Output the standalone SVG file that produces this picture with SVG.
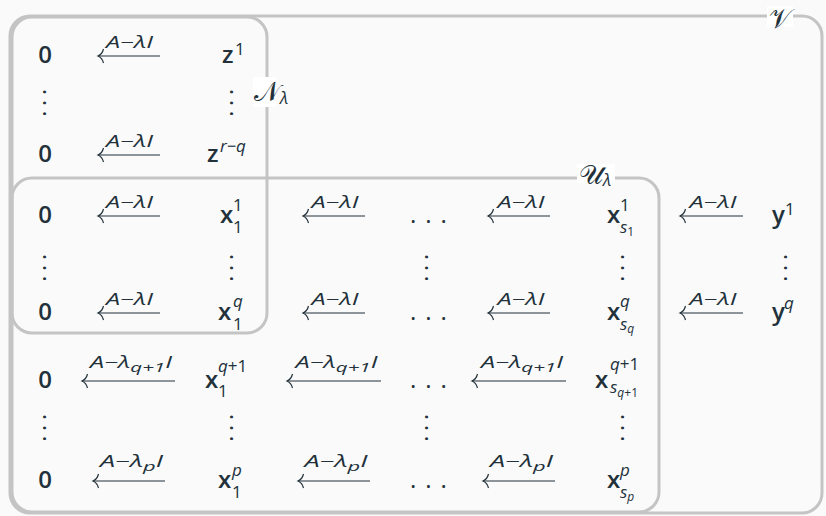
<svg xmlns="http://www.w3.org/2000/svg" width="826" height="516" viewBox="0 0 826 516">
<style>
.bg{fill:#fafafa}
.box{fill:none;stroke:#c4c4c4;stroke-width:3}
.lb{fill:#ffffff}
.m{font-family:"Open Sans","DejaVu Sans",sans-serif;font-size:24px;font-weight:600;fill:#22313a}
.sc{font-size:17px;font-weight:400}
.ss{font-size:12px;font-weight:400;font-style:italic}
.it{font-style:italic}
.vd{font-family:"Open Sans","DejaVu Sans",sans-serif;font-size:24px;font-weight:400;fill:#22313a;letter-spacing:4.6px}
.dots{font-family:"Open Sans",sans-serif;font-size:24px;fill:#22313a;letter-spacing:9px}
.lab{font-family:"Open Sans","DejaVu Sans",sans-serif;font-style:italic;font-size:16px;fill:#22313a;text-anchor:middle}
.lsub{font-size:13px}
.arr{stroke:#22313a;stroke-width:1.2;fill:none}
.cal{font-family:"DejaVu Serif","DejaVu Sans","Noto Sans",serif;font-size:27px;fill:#22313a}
.calsub{font-family:"Open Sans",sans-serif;font-size:17px;font-style:italic;fill:#22313a}
</style>
<defs>
<marker id="ah" markerUnits="userSpaceOnUse" markerWidth="14" markerHeight="16" viewBox="-8 -8 14 16" refX="0" refY="0" orient="auto" overflow="visible">
<path d="M -5.5,-7 C -4.5,-3 -2.5,-1 0,0 C -2.5,1 -4.5,3 -5.5,7" stroke="#22313a" stroke-width="1.2" fill="none"/>
</marker>
</defs>
<rect class="bg" x="0" y="0" width="826" height="516"/>

<g id="frames">
<rect id="V" class="box" x="10" y="16" width="812" height="497" rx="20"/>
<rect id="N" class="box" x="12" y="17" width="255" height="316" rx="20"/>
<rect id="U" class="box" x="12" y="178" width="647" height="334" rx="20"/>
<rect class="lb" x="767" y="6" width="26" height="21"/>
<text class="cal" x="769" y="28">𝒱</text>
<rect class="lb" x="253" y="77" width="23" height="30"/>
<text class="cal" x="254" y="101">𝒩</text><text class="calsub" x="280" y="104">λ</text>
<rect class="lb" x="577" y="164" width="38" height="19"/>
<text class="cal" x="579" y="184">𝒰</text><text class="calsub" x="603" y="186">λ</text>
</g>

<g id="connectors">
<path class="arr" marker-end="url(#ah)" d="M160,56 H98"/>
<text class="lab" x="129.5" y="48" textLength="47" lengthAdjust="spacingAndGlyphs">A−λI</text>
<path class="arr" marker-end="url(#ah)" d="M160,155 H98"/>
<text class="lab" x="129.5" y="147" textLength="47" lengthAdjust="spacingAndGlyphs">A−λI</text>

<path class="arr" marker-end="url(#ah)" d="M160,216 H98"/>
<text class="lab" x="129.5" y="208" textLength="47" lengthAdjust="spacingAndGlyphs">A−λI</text>
<path class="arr" marker-end="url(#ah)" d="M365,216 H303"/>
<text class="lab" x="335" y="208" textLength="47" lengthAdjust="spacingAndGlyphs">A−λI</text>
<path class="arr" marker-end="url(#ah)" d="M550,216 H488"/>
<text class="lab" x="521" y="208" textLength="47" lengthAdjust="spacingAndGlyphs">A−λI</text>
<path class="arr" marker-end="url(#ah)" d="M743,216 H680"/>
<text class="lab" x="713" y="208" textLength="47" lengthAdjust="spacingAndGlyphs">A−λI</text>

<path class="arr" marker-end="url(#ah)" d="M160,313 H98"/>
<text class="lab" x="129.5" y="305" textLength="47" lengthAdjust="spacingAndGlyphs">A−λI</text>
<path class="arr" marker-end="url(#ah)" d="M365,313 H303"/>
<text class="lab" x="335" y="305" textLength="47" lengthAdjust="spacingAndGlyphs">A−λI</text>
<path class="arr" marker-end="url(#ah)" d="M550,313 H488"/>
<text class="lab" x="521" y="305" textLength="47" lengthAdjust="spacingAndGlyphs">A−λI</text>
<path class="arr" marker-end="url(#ah)" d="M743,313 H680"/>
<text class="lab" x="713" y="305" textLength="47" lengthAdjust="spacingAndGlyphs">A−λI</text>

<path class="arr" marker-end="url(#ah)" d="M175,381 H82"/>
<text class="lab" x="131" y="368" textLength="82" lengthAdjust="spacingAndGlyphs">A−λ<tspan class="lsub" dy="4">q+1</tspan><tspan dy="-4">I</tspan></text>
<path class="arr" marker-end="url(#ah)" d="M381,381 H287"/>
<text class="lab" x="336.5" y="368" textLength="82" lengthAdjust="spacingAndGlyphs">A−λ<tspan class="lsub" dy="4">q+1</tspan><tspan dy="-4">I</tspan></text>
<path class="arr" marker-end="url(#ah)" d="M566,381 H472"/>
<text class="lab" x="522" y="368" textLength="82" lengthAdjust="spacingAndGlyphs">A−λ<tspan class="lsub" dy="4">q+1</tspan><tspan dy="-4">I</tspan></text>

<path class="arr" marker-end="url(#ah)" d="M165,481 H93"/>
<text class="lab" x="131.5" y="467" textLength="63" lengthAdjust="spacingAndGlyphs">A−λ<tspan class="lsub" dy="4">p</tspan><tspan dy="-4">I</tspan></text>
<path class="arr" marker-end="url(#ah)" d="M370,481 H298"/>
<text class="lab" x="336" y="467" textLength="63" lengthAdjust="spacingAndGlyphs">A−λ<tspan class="lsub" dy="4">p</tspan><tspan dy="-4">I</tspan></text>
<path class="arr" marker-end="url(#ah)" d="M555,481 H483"/>
<text class="lab" x="521.5" y="467" textLength="63" lengthAdjust="spacingAndGlyphs">A−λ<tspan class="lsub" dy="4">p</tspan><tspan dy="-4">I</tspan></text>
</g>

<g id="col-zero">
<g id="z0a"><text class="m" x="45" y="63" text-anchor="middle">0</text></g>
<g id="z0b"><text class="vd" x="30.8" y="105" transform="rotate(90 45 103)">...</text></g>
<g id="z0c"><text class="m" x="45" y="162" text-anchor="middle">0</text></g>
<g id="z0d"><text class="m" x="45" y="223" text-anchor="middle">0</text></g>
<g id="z0e"><text class="vd" x="30.8" y="270" transform="rotate(90 45 268)">...</text></g>
<g id="z0f"><text class="m" x="45" y="320" text-anchor="middle">0</text></g>
<g id="z0g"><text class="m" x="45" y="388" text-anchor="middle">0</text></g>
<g id="z0h"><text class="vd" x="30.8" y="430" transform="rotate(90 45 428)">...</text></g>
<g id="z0i"><text class="m" x="45" y="488" text-anchor="middle">0</text></g>
</g>

<g id="col-first">
<g id="z1"><text class="m" x="222" y="63">z<tspan class="sc" x="235" y="55">1</tspan></text></g>
<g id="zdots"><text class="vd" x="217.8" y="105" transform="rotate(90 232 103)">...</text></g>
<g id="zrq"><text class="m" x="207" y="162">z<tspan class="sc it" x="220" y="152">r−q</tspan></text></g>
<g id="x11"><text class="m" x="220" y="223">x<tspan class="sc" x="233" y="211">1</tspan><tspan class="sc" x="233" y="233">1</tspan></text></g>
<g id="x1dots"><text class="vd" x="217.8" y="270" transform="rotate(90 232 268)">...</text></g>
<g id="x1q"><text class="m" x="218" y="320">x<tspan class="sc it" x="233" y="307">q</tspan><tspan class="sc" x="233" y="330">1</tspan></text></g>
<g id="x1q1"><text class="m" x="205" y="388">x<tspan class="sc it" x="218" y="372">q</tspan><tspan class="sc" y="372">+1</tspan><tspan class="sc" x="218" y="397">1</tspan></text></g>
<g id="x1pdots"><text class="vd" x="217.8" y="430" transform="rotate(90 232 428)">...</text></g>
<g id="x1p"><text class="m" x="218" y="488">x<tspan class="sc it" x="232" y="476">p</tspan><tspan class="sc" x="232" y="498">1</tspan></text></g>
</g>

<g id="col-mid">
<g id="d4"><text class="dots" x="410" y="223">...</text></g>
<g id="d5"><text class="vd" x="412.8" y="270" transform="rotate(90 427 268)">...</text></g>
<g id="d6"><text class="dots" x="410" y="320">...</text></g>
<g id="d7"><text class="dots" x="410" y="388">...</text></g>
<g id="d8"><text class="vd" x="412.8" y="430" transform="rotate(90 427 428)">...</text></g>
<g id="d9"><text class="dots" x="410" y="488">...</text></g>
</g>

<g id="col-last">
<g id="xs1"><text class="m" x="607" y="223">x<tspan class="sc" x="620" y="211">1</tspan><tspan class="sc it" x="620" y="233">s</tspan><tspan class="ss" y="236" style="font-style:normal">1</tspan></text></g>
<g id="xsdots"><text class="vd" x="608.8" y="270" transform="rotate(90 623 268)">...</text></g>
<g id="xsq"><text class="m" x="607" y="320">x<tspan class="sc it" x="620" y="307">q</tspan><tspan class="sc it" x="620" y="330">s</tspan><tspan class="ss" y="333">q</tspan></text></g>
<g id="xsq1"><text class="m" x="595" y="388">x<tspan class="sc it" x="610" y="370">q</tspan><tspan class="sc" y="370">+1</tspan><tspan class="sc it" x="610" y="393">s</tspan><tspan class="ss" y="397">q</tspan><tspan class="ss" y="397" style="font-style:normal">+1</tspan></text></g>
<g id="xspdots"><text class="vd" x="608.8" y="430" transform="rotate(90 623 428)">...</text></g>
<g id="xsp"><text class="m" x="607" y="488">x<tspan class="sc it" x="620" y="476">p</tspan><tspan class="sc it" x="620" y="498">s</tspan><tspan class="ss" y="501">p</tspan></text></g>
</g>

<g id="col-y">
<g id="y1"><text class="m" x="772" y="223">y<tspan class="sc" x="785" y="215">1</tspan></text></g>
<g id="ydots"><text class="vd" x="771.8" y="270" transform="rotate(90 786 268)">...</text></g>
<g id="yq"><text class="m" x="772" y="320">y<tspan class="sc it" x="784" y="309">q</tspan></text></g>
</g>
</svg>
